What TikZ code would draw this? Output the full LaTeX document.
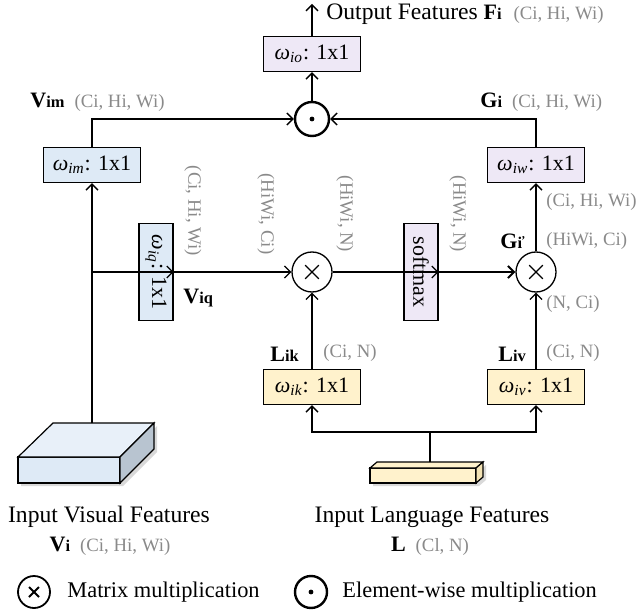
\documentclass[tikz,border=0pt]{standalone}
\usepackage{fontspec}
\setmainfont{Liberation Serif}
\usepackage{xcolor}
\usetikzlibrary{arrows.meta}

\definecolor{visblue}{HTML}{DEEAF6}
\definecolor{visside}{HTML}{B8C4D0}
\definecolor{langyellow}{HTML}{FFF2CC}
\definecolor{langside}{HTML}{F2E2B4}
\definecolor{attnpurple}{HTML}{EEE8F6}
\definecolor{dimgray}{HTML}{8A8A8A}

% bold symbol with small bold index
\newcommand{\bsym}[2]{{\fontsize{11}{12}\selectfont\textbf{#1}}{\fontsize{8.2}{9}\selectfont\textbf{#2}}}
% conv weight name
\newcommand{\wname}[1]{{\itshape ω\textsubscript{#1}}}
\newcommand{\dimtxt}[1]{{\color{dimgray}\fontsize{9.4}{10}\selectfont #1}}

\tikzset{
  flow/.style={-{Straight Barb[length=3pt,width=6pt]}, line width=0.65pt},
  convbox/.style={draw, line width=0.7pt, minimum width=48.5pt, minimum height=17.5pt,
    inner sep=0pt, font=\fontsize{11}{13}\selectfont},
  vconv/.style={convbox, rotate=-90, minimum width=48.5pt, minimum height=17pt},
  mmul/.style={circle, draw, line width=0.65pt, minimum size=20pt, inner sep=0pt,
    path picture={
      \draw[line width=0.65pt] ([shift={(-3.4pt,-3.4pt)}]path picture bounding box.center) -- ([shift={(3.4pt,3.4pt)}]path picture bounding box.center);
      \draw[line width=0.65pt] ([shift={(-3.4pt,3.4pt)}]path picture bounding box.center) -- ([shift={(3.4pt,-3.4pt)}]path picture bounding box.center);
    }},
  emul/.style={circle, draw, line width=1.2pt, minimum size=17pt, inner sep=0pt,
    path picture={\fill (path picture bounding box.center) circle (1.2pt);}},
  shape dim/.style={text=dimgray, font=\fontsize{9.4}{10}\selectfont},
  tag/.style={font=\fontsize{11.8}{13}\selectfont},
  legtag/.style={font=\fontsize{11.2}{13}\selectfont},
}

\begin{document}
\begin{tikzpicture}[x=0.5pt, y=-0.5pt]
\useasboundingbox (0,0) rectangle (636,614);

% convolutions and operators
\node[convbox, fill=attnpurple] (wio) at (312,54) {\wname{io}: 1x1};
\node[emul] (mul) at (312,119) {};
\node[convbox, fill=visblue] (wim) at (92,165) {\wname{im}: 1x1};
\node[convbox, fill=attnpurple] (wiw) at (536,165) {\wname{iw}: 1x1};
\node[vconv, fill=visblue] (wiq) at (156,272) {\wname{iq}: 1x1};
\node[mmul] (mm1) at (312,272) {};
\node[vconv, fill=attnpurple] (soft) at (421,272) {softmax};
\node[mmul] (mm2) at (536,272) {};
\node[convbox, fill=langyellow] (wik) at (312,387) {\wname{ik}: 1x1};
\node[convbox, fill=langyellow] (wiv) at (536,387) {\wname{iv}: 1x1};

% visual feature block
\fill[black!25, opacity=0.6] (21,460) -- (123,460) -- (157,426) -- (157,452) -- (123,486) -- (21,486) -- cycle;
\draw[line width=0.6pt, fill=visblue] (18,457) rectangle (120,483);
\draw[line width=0.6pt, fill=visblue!70!white] (18,457) -- (53,423) -- (154,423) -- (120,457) -- cycle;
\draw[line width=0.6pt, fill=visside] (120,457) -- (154,423) -- (154,449) -- (120,483) -- cycle;
\coordinate (vtop) at (92,423);
\coordinate (vsplit) at (92,272);

% language feature block
\fill[black!25, opacity=0.6] (373,471) -- (479,471) -- (486,465) -- (486,480) -- (479,486) -- (373,486) -- cycle;
\draw[line width=0.6pt, fill=langyellow] (370,468) rectangle (476,483);
\draw[line width=0.6pt, fill=langyellow] (370,468) -- (377,462) -- (483,462) -- (476,468) -- cycle;
\draw[line width=0.6pt, fill=langside] (476,468) -- (483,462) -- (483,477) -- (476,483) -- cycle;
\coordinate (ltop) at (430,462);
\coordinate (out) at (312,4);

% connectors
\draw[flow] (vtop) -- (wim.south);
\draw[flow] (vsplit) -- (wiq.north);
\draw[flow] (wim.north) |- (mul.west);
\draw[flow] (wiw.north) |- (mul.east);
\draw[flow] (mul.north) -- (wio.south);
\draw[flow] (wio.north) -- (out);
\draw[flow] (wiq.south) -- (mm1.west);
\draw[flow] (mm1.east) -- (soft.north);
\draw[flow, line width=1pt] (soft.south) -- (mm2.west);
\draw[flow] (mm2.north) -- (wiw.south);
\draw[flow] (wik.north) -- (mm1.south);
\draw[flow] (wiv.north) -- (mm2.south);
\draw[flow] (ltop) -- ++(0,-30) -| (wik.south);
\draw[flow] (ltop) -- ++(0,-30) -| (wiv.south);

% labels
\node[tag, anchor=west, inner sep=0pt] (outlbl) at (326,14) {Output Features \bsym{F}{i}\enspace\dimtxt{(Ci, Hi, Wi)}};
\node[anchor=west, inner sep=0pt] (vimlbl) at (30,102) {\bsym{V}{im}\enspace\dimtxt{(Ci, Hi, Wi)}};
\node[anchor=west, inner sep=0pt] (gilbl) at (480,102) {\bsym{G}{i}\enspace\dimtxt{(Ci, Hi, Wi)}};
\node[shape dim, rotate=-90] (dq) at (193,211) {(Ci, Hi, Wi)};
\node[shape dim, rotate=-90] (dk) at (266,214) {(HiWi, Ci)};
\node[shape dim, rotate=-90] (da) at (345,214) {(HiWi, N)};
\node[shape dim, rotate=-90] (ds) at (458,214) {(HiWi, N)};
\node[anchor=west, inner sep=0pt] (viqlbl) at (183,298) {\bsym{V}{iq}};
\node[anchor=west, inner sep=0pt] (liklbl) at (270,354) {\bsym{L}{ik}};
\node[shape dim, anchor=west, inner sep=0pt] (dik) at (323,353) {(Ci, N)};
\node[anchor=west, inner sep=0pt] (livlbl) at (498,354) {\bsym{L}{iv}};
\node[shape dim, anchor=west, inner sep=0pt] (div) at (546,353) {(Ci, N)};
\node[shape dim, anchor=west, inner sep=0pt] (dnc) at (546,304) {(N, Ci)};
\node[anchor=west, inner sep=0pt] (gplbl) at (500,241) {\bsym{G}{i\kern-0.3pt\raisebox{0.55ex}{\fontsize{6}{6}\selectfont'}}};
\node[shape dim, anchor=west, inner sep=0pt] (dhc) at (546,241) {(HiWi, Ci)};
\node[shape dim, anchor=west, inner sep=0pt] (dwi) at (546,202) {(Ci, Hi, Wi)};

\node[tag] (vinput) at (109,517) {Input Visual Features};
\node (vdim) at (110,546) {\bsym{V}{i}\enspace\dimtxt{(Ci, Hi, Wi)}};
\node[tag] (linput) at (432,517) {Input Language Features};
\node (ldim) at (430,546) {\bsym{L}{}\enspace\dimtxt{(Cl, N)}};

% legend
\node[circle, draw, line width=0.9pt, minimum size=16pt, inner sep=0pt,
  path picture={
    \draw[line width=0.9pt] ([shift={(-2.5pt,-2.5pt)}]path picture bounding box.center) -- ([shift={(2.5pt,2.5pt)}]path picture bounding box.center);
    \draw[line width=0.9pt] ([shift={(-2.5pt,2.5pt)}]path picture bounding box.center) -- ([shift={(2.5pt,-2.5pt)}]path picture bounding box.center);
  }] (legmm) at (34,592) {};
\node[legtag, anchor=west, inner sep=0pt] (legmmtxt) at (67,592) {Matrix multiplication};
\node[emul, minimum size=16pt] (legem) at (311,592) {};
\node[legtag, anchor=west, inner sep=0pt] (legemtxt) at (342,592) {Element-wise multiplication};
\end{tikzpicture}
\end{document}
